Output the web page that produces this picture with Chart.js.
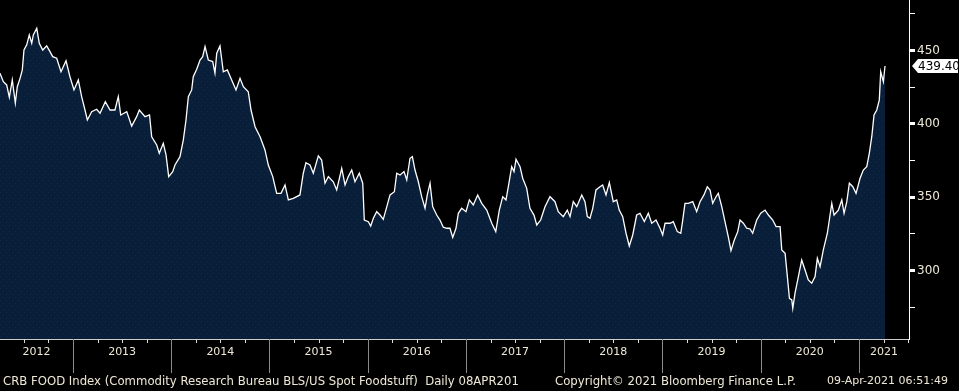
<!DOCTYPE html>
<html>
<head>
<meta charset="utf-8">
<script src="https://cdn.jsdelivr.net/npm/chart.js@4.4.1/dist/chart.umd.min.js"></script>
<style>
  body { margin: 0; background: #000; }
  #wrap { position: relative; width: 959px; height: 391px; }
  .foot { position: absolute; top: 374px; font: 11.7px "DejaVu Sans", sans-serif; color: #eee8d6; white-space: pre; }
</style>
</head>
<body>
<div id="wrap">
  <canvas id="myChart" width="959" height="391"></canvas>
  <div class="foot" style="left:3px">CRB FOOD Index (Commodity Research Bureau BLS/US Spot Foodstuff)  Daily 08APR201</div>
  <div class="foot" style="left:555px">Copyright© 2021 Bloomberg Finance L.P.</div>
  <div class="foot" style="left:827px;font-size:11px">09-Apr-2021 06:51:49</div>
</div>
<script>
// dates as decimal years
var years = [
  2012.257, 2012.291, 2012.325, 2012.352, 2012.382, 2012.413, 2012.433, 2012.461, 2012.484, 2012.501,
  2012.529, 2012.555, 2012.580, 2012.596, 2012.631, 2012.657, 2012.692, 2012.732, 2012.766, 2012.793,
  2012.834, 2012.878, 2012.929, 2012.969, 2013.010, 2013.054, 2013.088, 2013.122, 2013.146, 2013.190,
  2013.241, 2013.275, 2013.329, 2013.377, 2013.427, 2013.461, 2013.486, 2013.547, 2013.597, 2013.648,
  2013.675, 2013.733, 2013.779, 2013.801, 2013.852, 2013.878, 2013.919, 2013.947, 2013.974, 2014.015,
  2014.038, 2014.089, 2014.123, 2014.150, 2014.174, 2014.208, 2014.224, 2014.259, 2014.293, 2014.320,
  2014.344, 2014.377, 2014.422, 2014.445, 2014.463, 2014.496, 2014.530, 2014.571, 2014.615, 2014.659,
  2014.700, 2014.734, 2014.784, 2014.812, 2014.853, 2014.904, 2014.954, 2014.988, 2015.033, 2015.073,
  2015.117, 2015.158, 2015.192, 2015.242, 2015.310, 2015.344, 2015.371, 2015.412, 2015.446, 2015.497,
  2015.531, 2015.565, 2015.599, 2015.649, 2015.684, 2015.735, 2015.769, 2015.802, 2015.837, 2015.870,
  2015.914, 2015.949, 2015.965, 2016.006, 2016.030, 2016.057, 2016.091, 2016.125, 2016.158, 2016.199,
  2016.227, 2016.271, 2016.295, 2016.329, 2016.369, 2016.397, 2016.430, 2016.454, 2016.481, 2016.515,
  2016.549, 2016.583, 2016.606, 2016.634, 2016.661, 2016.702, 2016.735, 2016.769, 2016.804, 2016.837,
  2016.865, 2016.898, 2016.922, 2016.956, 2017.000, 2017.034, 2017.074, 2017.119, 2017.160, 2017.211,
  2017.262, 2017.303, 2017.339, 2017.374, 2017.407, 2017.431, 2017.465, 2017.489, 2017.509, 2017.550,
  2017.577, 2017.618, 2017.651, 2017.692, 2017.720, 2017.760, 2017.804, 2017.855, 2017.906, 2017.939,
  2017.990, 2018.031, 2018.059, 2018.092, 2018.127, 2018.178, 2018.211, 2018.235, 2018.262, 2018.290,
  2018.323, 2018.364, 2018.391, 2018.425, 2018.459, 2018.499, 2018.534, 2018.560, 2018.595, 2018.629,
  2018.662, 2018.697, 2018.737, 2018.771, 2018.815, 2018.856, 2018.890, 2018.934, 2018.975, 2019.002,
  2019.026, 2019.077, 2019.110, 2019.151, 2019.186, 2019.206, 2019.229, 2019.263, 2019.308, 2019.348,
  2019.382, 2019.422, 2019.456, 2019.484, 2019.511, 2019.545, 2019.568, 2019.603, 2019.636, 2019.670,
  2019.697, 2019.731, 2019.766, 2019.789, 2019.823, 2019.857, 2019.891, 2019.918, 2019.959, 2020.000,
  2020.044, 2020.078, 2020.122, 2020.156, 2020.197, 2020.214, 2020.248, 2020.271, 2020.292, 2020.316,
  2020.326, 2020.349, 2020.383, 2020.417, 2020.451, 2020.484, 2020.519, 2020.553, 2020.576, 2020.604,
  2020.637, 2020.678, 2020.723, 2020.746, 2020.790, 2020.825, 2020.848, 2020.876, 2020.902, 2020.937,
  2020.970, 2021.011, 2021.044, 2021.079, 2021.105, 2021.130, 2021.153, 2021.181, 2021.207, 2021.221,
  2021.248, 2021.265
];
var values = [
  434.5, 428.7, 426.5, 418.1, 429.9, 414.2, 425.3, 431.0, 436.7, 450.3,
  453.8, 460.6, 454.9, 460.6, 465.1, 454.9, 450.3, 453.1, 449.2, 445.8,
  444.7, 435.5, 443.0, 432.1, 423.1, 429.9, 418.5, 409.4, 402.6, 408.3,
  409.9, 407.2, 415.1, 409.4, 409.4, 418.5, 406.0, 408.3, 398.5, 404.9,
  409.4, 404.9, 406.0, 391.2, 385.6, 379.9, 386.7, 378.8, 364.0, 367.4,
  371.9, 377.6, 389.0, 402.6, 418.5, 423.1, 432.1, 437.2, 443.5, 445.8,
  452.6, 443.5, 442.4, 434.5, 448.1, 453.1, 435.5, 436.7, 429.9, 423.1,
  431.0, 425.3, 421.9, 409.4, 398.0, 391.2, 382.2, 371.9, 364.0, 352.6,
  352.6, 358.3, 348.1, 349.2, 351.5, 366.3, 373.5, 371.9, 366.3, 378.1,
  375.3, 359.5, 364.0, 360.5, 354.9, 369.7, 358.3, 364.0, 368.5, 360.5,
  366.3, 359.5, 334.4, 333.3, 330.3, 335.6, 340.1, 337.8, 334.9, 344.7,
  351.5, 353.7, 366.3, 365.1, 367.4, 361.7, 376.5, 377.6, 368.5, 360.5,
  350.3, 342.4, 351.5, 359.5, 343.5, 337.8, 334.4, 329.5, 328.8, 328.8,
  322.6, 328.8, 339.0, 342.4, 340.1, 348.1, 344.7, 351.5, 345.8, 341.2,
  332.2, 326.5, 341.2, 350.3, 348.1, 357.1, 370.8, 367.4, 375.8, 370.8,
  362.9, 356.0, 342.4, 337.8, 331.0, 334.4, 343.5, 350.3, 346.9, 340.1,
  336.7, 341.2, 336.7, 346.9, 343.5, 351.5, 346.9, 336.7, 335.6, 342.4,
  354.9, 357.1, 358.3, 351.5, 359.9, 346.9, 348.1, 341.2, 336.7, 325.4,
  316.7, 324.2, 337.8, 339.0, 333.3, 339.0, 332.2, 334.4, 328.8, 324.2,
  332.2, 332.2, 333.3, 326.5, 325.4, 334.4, 345.8, 345.8, 346.9, 340.1,
  346.9, 351.5, 357.1, 354.9, 345.8, 350.3, 352.6, 343.5, 333.3, 323.0,
  313.5, 320.8, 326.5, 334.4, 332.2, 328.8, 328.3, 325.4, 334.4, 339.0,
  341.2, 337.8, 334.4, 329.9, 329.9, 314.0, 311.7, 295.8, 281.0, 279.9,
  274.2, 284.5, 295.8, 307.2, 300.3, 293.6, 291.3, 295.8, 308.3, 302.6,
  314.0, 325.4, 345.8, 337.8, 341.2, 348.1, 339.0, 346.9, 359.5, 357.1,
  352.6, 362.9, 368.5, 370.8, 379.9, 391.2, 406.0, 409.4, 416.3, 435.5,
  428.7, 439.4
];
var yearLabels = ['2012', '2013', '2014', '2015', '2016', '2017', '2018', '2019', '2020', '2021'];
var yTicks = [275, 300, 325, 350, 375, 400, 425, 450, 475];
var lastValue = 439.40;

var xMin = 2012.257, xMax = 2021.509;

var points = [];
for (var i = 0; i < years.length; i++) {
  points.push({ x: years[i], y: values[i] });
}

// dotted navy fill like the terminal
function makeFill() {
  var c = document.createElement('canvas');
  c.width = 6; c.height = 6;
  var g = c.getContext('2d');
  g.fillStyle = 'rgb(9,30,57)';
  g.fillRect(0, 0, 6, 6);
  g.fillStyle = 'rgb(18,42,72)';
  g.fillRect(0, 0, 1, 1);
  g.fillRect(3, 3, 1, 1);
  return g.createPattern(c, 'repeat');
}

var txtColor = '#eee8d6';

// year separators, quarter ticks and last value flag
var extras = {
  id: 'extras',
  afterDraw: function (chart) {
    var ctx = chart.ctx, xs = chart.scales.x, ys = chart.scales.y;
    var bottom = chart.chartArea.bottom;
    ctx.save();
    ctx.lineWidth = 1;
    ctx.strokeStyle = '#dddddd';
    for (var q = 2012.25; q <= xMax + 0.001; q += 0.25) {
      if (Math.abs(q - Math.round(q)) < 0.001) continue;
      var px = Math.round(xs.getPixelForValue(q)) + 0.5;
      if (px < 0) continue;
      ctx.beginPath(); ctx.moveTo(px, bottom); ctx.lineTo(px, bottom + 4); ctx.stroke();
    }
    ctx.strokeStyle = '#8a8a8a';
    for (var y = 2013; y <= 2021; y++) {
      var sx = Math.round(xs.getPixelForValue(y)) + 0.5;
      ctx.beginPath(); ctx.moveTo(sx, bottom); ctx.lineTo(sx, bottom + 34); ctx.stroke();
    }
    // last price flag
    var ly = ys.getPixelForValue(lastValue);
    var lx = chart.chartArea.right + 3;
    ctx.fillStyle = '#ffffff';
    ctx.beginPath();
    ctx.moveTo(lx, ly);
    ctx.lineTo(lx + 6, ly - 7);
    ctx.lineTo(958, ly - 7);
    ctx.lineTo(958, ly + 7);
    ctx.lineTo(lx + 6, ly + 7);
    ctx.closePath();
    ctx.fill();
    ctx.fillStyle = '#000000';
    ctx.font = '12px "DejaVu Sans"';
    ctx.textBaseline = 'middle';
    ctx.textAlign = 'left';
    ctx.fillText(lastValue.toFixed(2), lx + 6, ly + 1);
    ctx.restore();
  }
};

var ctx = document.getElementById('myChart').getContext('2d');
var chart = new Chart(ctx, {
  type: 'line',
  data: {
    datasets: [{
      data: points,
      borderColor: '#ffffff',
      borderWidth: 1.3,
      pointRadius: 0,
      tension: 0,
      fill: 'start',
      backgroundColor: makeFill()
    }]
  },
  options: {
    responsive: false,
    animation: false,
    devicePixelRatio: 1,
    layout: { padding: 0 },
    plugins: { legend: { display: false }, tooltip: { enabled: false } },
    scales: {
      x: {
        type: 'linear',
        min: xMin,
        max: xMax,
        grid: { display: false, drawTicks: false },
        border: { display: true, color: '#cccccc', width: 1 },
        afterBuildTicks: function (axis) {
          axis.ticks = yearLabels.map(function (lab) {
            var y = +lab;
            var a = Math.max(y, xMin), b = Math.min(y + 1, xMax);
            return { value: (a + b) / 2 };
          });
        },
        afterFit: function (axis) {
          axis.height = 52;
          axis.paddingLeft = 0;
          axis.paddingRight = 0;
        },
        ticks: {
          autoSkip: false,
          maxRotation: 0,
          padding: 7,
          color: txtColor,
          font: { family: 'DejaVu Sans', size: 11 },
          callback: function (v) { return String(Math.floor(v)); }
        }
      },
      y: {
        position: 'right',
        min: 253.3,
        max: 484.4,
        grid: {
          drawOnChartArea: false,
          color: '#ffffff',
          tickLength: 6,
          lineWidth: function (c) { return c.tick && c.tick.value % 50 === 0 ? 3 : 1; }
        },
        border: { display: true, color: '#ffffff', width: 1 },
        afterBuildTicks: function (axis) {
          axis.ticks = yTicks.map(function (v) { return { value: v }; });
        },
        afterFit: function (axis) {
          axis.width = 50;
          axis.paddingTop = 0;
          axis.paddingBottom = 0;
        },
        ticks: {
          padding: 2,
          color: txtColor,
          font: { family: 'DejaVu Sans', size: 12 },
          callback: function (v) { return v % 50 === 0 ? v : ''; }
        }
      }
    }
  },
  plugins: [extras]
});
</script>
</body>
</html>
